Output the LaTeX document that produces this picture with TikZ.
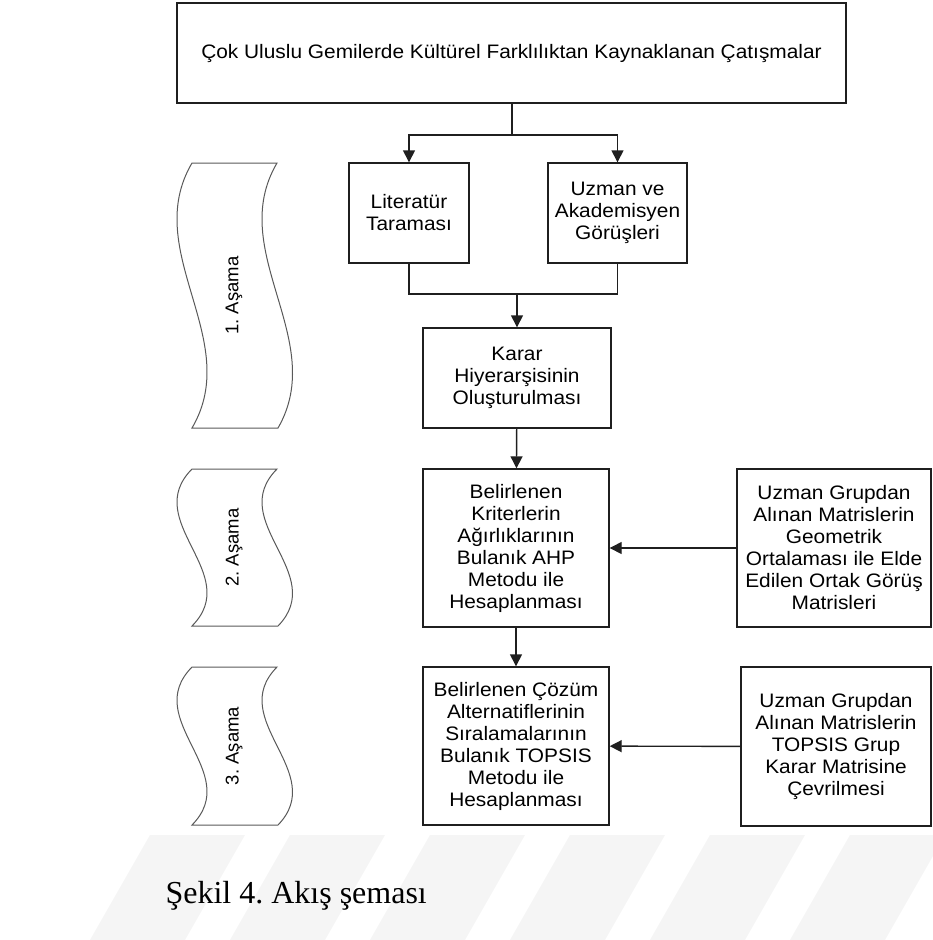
\documentclass[tikz,border=0pt]{standalone}
\usepackage{fontspec}
\setmainfont{Liberation Serif}
\newfontfamily\boxfont[FakeStretch=1.07]{Liberation Sans}
\newfontfamily\stagefont{Liberation Sans}
\usetikzlibrary{arrows.meta}
\frenchspacing
\tikzstyle{boxes} = [rectangle, draw=black!88, line width=1.4pt, text centered, align=center,
inner sep=0pt, font=\boxfont\fontsize{19.5}{22}\selectfont]
\tikzstyle{line} = [draw=black!88, line width=1.4pt]
\tikzstyle{arr} = [line, -{Triangle[width=12pt,length=12pt]}]
\tikzstyle{tape} = [draw=black!65, line width=1pt]
\tikzstyle{stagelabel} = [rotate=90, font=\stagefont\fontsize{18.5}{20}\selectfont]
\tikzstyle{stripe} = [fill=black!4, draw=none]

% stage banner: top y, bottom y
\newcommand{\stagetape}[2]{%
  \draw[tape] (192,#1) -- (277,#1)
    .. controls (225,{#1+(#2-#1)/3}) and (329,{#1+2*(#2-#1)/3}) .. (278,#2)
    -- (192,#2)
    .. controls (244,{#1+2*(#2-#1)/3}) and (140,{#1+(#2-#1)/3}) .. (192,#1) -- cycle;}

\begin{document}
\begin{tikzpicture}[x=1pt, y=-1pt]
            \useasboundingbox (0,0) rectangle (932,940);

            % Watermark stripes
            \foreach \sx in {150,290,430,570,710,850}
                \fill[stripe] (\sx,835) -- (\sx+95,835) -- (\sx+35,940) -- (\sx-60,940) -- cycle;

            \node(conflict) [boxes, minimum width=669pt, minimum height=100pt] at (511.5,53) {Çok Uluslu Gemilerde Kültürel Farklılıktan Kaynaklanan Çatışmalar};
            \node(literature) [boxes, minimum width=120pt, minimum height=100pt] at (409,213) {Literatür\\Taraması};
            \node(experts) [boxes, minimum width=139pt, minimum height=100pt] at (617.5,213) {Uzman ve\\Akademisyen\\Görüşleri};
            \node(hierarchy) [boxes, minimum width=188pt, minimum height=100pt] at (517,378) {Karar\\Hiyerarşisinin\\Oluşturulması};
            \node(fahp) [boxes, minimum width=186pt, minimum height=158pt] at (516,548) {Belirlenen\\Kriterlerin\\Ağırlıklarının\\Bulanık AHP\\Metodu ile\\Hesaplanması};
            \node(ftopsis) [boxes, minimum width=186pt, minimum height=158pt] at (516,746) {Belirlenen Çözüm\\Alternatiflerinin\\Sıralamalarının\\Bulanık TOPSIS\\Metodu ile\\Hesaplanması};
            \node(geomean) [boxes, minimum width=194pt, minimum height=158pt] at (834,548) {Uzman Grupdan\\Alınan Matrislerin\\Geometrik\\Ortalaması ile Elde\\Edilen Ortak Görüş\\Matrisleri};
            \node(groupmat) [boxes, minimum width=190pt, minimum height=159pt] at (836,746.5) {Uzman Grupdan\\Alınan Matrislerin\\TOPSIS Grup\\Karar Matrisine\\Çevrilmesi};

            % Draw Lines
            \coordinate (split) at (512,135);
            \coordinate (merge) at (517,294);
            \draw[line] (conflict.south -| split) -- (split);
            \draw[arr] (split) -| (literature.north);
            \draw[arr] (split) -| (experts.north);
            \draw[line] (literature.south) |- (merge) -| (experts.south);
            \draw[arr] (merge) -- (hierarchy.north);
            \draw[arr] (hierarchy) -- (fahp);
            \draw[arr] (fahp) -- (ftopsis);
            \draw[arr] (geomean) -- (fahp);
            \draw[arr] (groupmat) -- (ftopsis);

            % Draw stages
            \stagetape{163}{428}
            \stagetape{469}{626}
            \stagetape{667}{825}
            \node(stage1) [stagelabel] at (234,295.5) {1. Aşama};
            \node(stage2) [stagelabel] at (234,547.5) {2. Aşama};
            \node(stage3) [stagelabel] at (234,746) {3. Aşama};

            \node(caption) [anchor=base west, font=\fontsize{32}{36}\selectfont] at (162,903) {Şekil 4. Akış şeması};
\end{tikzpicture}
\end{document}
